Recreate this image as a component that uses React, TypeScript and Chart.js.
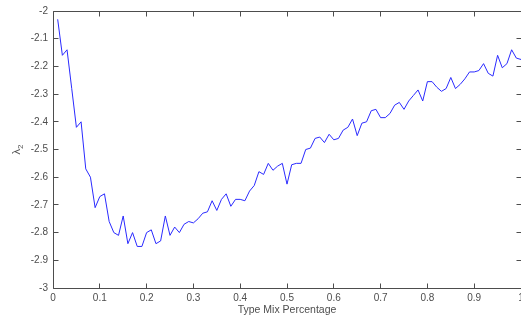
import React, { useEffect, useRef } from 'react';
import { Chart, registerables } from 'chart.js';

Chart.register(...registerables);

const mixPercentage = [
  0.01, 0.02, 0.03, 0.04, 0.05, 0.06, 0.07, 0.08, 0.09, 0.10,
  0.11, 0.12, 0.13, 0.14, 0.15, 0.16, 0.17, 0.18, 0.19, 0.20,
  0.21, 0.22, 0.23, 0.24, 0.25, 0.26, 0.27, 0.28, 0.29, 0.30,
  0.31, 0.32, 0.33, 0.34, 0.35, 0.36, 0.37, 0.38, 0.39, 0.40,
  0.41, 0.42, 0.43, 0.44, 0.45, 0.46, 0.47, 0.48, 0.49, 0.50,
  0.51, 0.52, 0.53, 0.54, 0.55, 0.56, 0.57, 0.58, 0.59, 0.60,
  0.61, 0.62, 0.63, 0.64, 0.65, 0.66, 0.67, 0.68, 0.69, 0.70,
  0.71, 0.72, 0.73, 0.74, 0.75, 0.76, 0.77, 0.78, 0.79, 0.80,
  0.81, 0.82, 0.83, 0.84, 0.85, 0.86, 0.87, 0.88, 0.89, 0.90,
  0.91, 0.92, 0.93, 0.94, 0.95, 0.96, 0.97, 0.98, 0.99, 1.00,
];

const lambda2 = [
  -2.03, -2.16, -2.14, -2.28, -2.42, -2.40, -2.57, -2.60, -2.71, -2.67,
  -2.66, -2.76, -2.80, -2.81, -2.74, -2.84, -2.80, -2.85, -2.85, -2.80,
  -2.79, -2.84, -2.83, -2.74, -2.81, -2.78, -2.80, -2.77, -2.76, -2.765,
  -2.75, -2.73, -2.725, -2.685, -2.72, -2.68, -2.66, -2.705, -2.68, -2.68,
  -2.685, -2.65, -2.63, -2.58, -2.59, -2.55, -2.575, -2.56, -2.55, -2.625,
  -2.555, -2.55, -2.55, -2.50, -2.495, -2.46, -2.455, -2.475, -2.445, -2.465,
  -2.46, -2.43, -2.42, -2.39, -2.45, -2.405, -2.40, -2.36, -2.355, -2.385,
  -2.385, -2.37, -2.34, -2.33, -2.355, -2.325, -2.305, -2.285, -2.325, -2.255,
  -2.255, -2.275, -2.29, -2.28, -2.24, -2.28, -2.265, -2.245, -2.22, -2.22,
  -2.215, -2.19, -2.225, -2.235, -2.16, -2.205, -2.19, -2.14, -2.17, -2.175,
];

const xTicks = [0, 0.1, 0.2, 0.3, 0.4, 0.5, 0.6, 0.7, 0.8, 0.9, 1];
const yTicks = [-3, -2.9, -2.8, -2.7, -2.6, -2.5, -2.4, -2.3, -2.2, -2.1, -2];

const xTitle = 'Type Mix Percentage';
const yTitleMain = 'λ';
const yTitleSub = '2';

const FONT = '"Liberation Sans", Arial, Helvetica, sans-serif';
const AXIS_COLOR = '#4d4d4d';
const TEXT_COLOR = '#4d4d4d';
const LINE_COLOR = '#2a2aff';

const axesPlugin = {
  id: 'matlabAxes',
  afterDraw(chart: any) {
    const { ctx, chartArea } = chart;
    const { left, right, top, bottom } = chartArea;
    const xs = chart.scales.x;
    const ys = chart.scales.y;
    const L = Math.floor(left) + 0.5;
    const R = Math.floor(right) + 0.5;
    const T = Math.floor(top) + 0.5;
    const B = Math.floor(bottom) + 0.5;
    ctx.save();
    ctx.strokeStyle = AXIS_COLOR;
    ctx.lineWidth = 1;
    ctx.beginPath();
    ctx.moveTo(L, T);
    ctx.lineTo(R, T);
    ctx.lineTo(R, B);
    ctx.lineTo(L, B);
    ctx.closePath();
    const tl = 5;
    xTicks.forEach((v) => {
      const px = Math.floor(xs.getPixelForValue(v)) + 0.5;
      ctx.moveTo(px, B);
      ctx.lineTo(px, B - tl);
      ctx.moveTo(px, T);
      ctx.lineTo(px, T + tl);
    });
    yTicks.forEach((v) => {
      const py = Math.floor(ys.getPixelForValue(v)) + 0.5;
      ctx.moveTo(L, py);
      ctx.lineTo(L + tl, py);
      ctx.moveTo(R, py);
      ctx.lineTo(R - tl, py);
    });
    ctx.stroke();

    // x title
    ctx.fillStyle = TEXT_COLOR;
    ctx.font = `10.5px ${FONT}`;
    ctx.textAlign = 'center';
    ctx.textBaseline = 'middle';
    ctx.fillText(xTitle, (left + right) / 2, 310);

    // y title (rotated lambda with subscript 2)
    ctx.translate(17, (top + bottom) / 2);
    ctx.rotate(-Math.PI / 2);
    ctx.textAlign = 'left';
    ctx.textBaseline = 'alphabetic';
    ctx.font = `11px ${FONT}`;
    const w = ctx.measureText(yTitleMain).width;
    ctx.fillText(yTitleMain, -5, 3);
    ctx.font = `8px ${FONT}`;
    ctx.fillText(yTitleSub, -5 + w, 6);
    ctx.restore();
  },
};

export default function App() {
  const canvasRef = useRef<HTMLCanvasElement | null>(null);

  useEffect(() => {
    const canvas = canvasRef.current;
    if (!canvas) return;
    const chart = new Chart(canvas, {
      type: 'line',
      data: {
        datasets: [
          {
            data: mixPercentage.map((x, i) => ({ x, y: lambda2[i] })),
            borderColor: LINE_COLOR,
            borderWidth: 1,
            pointRadius: 0,
            tension: 0,
            fill: false,
          },
        ],
      },
      options: {
        animation: false,
        responsive: false,
        devicePixelRatio: 1,
        layout: { padding: { top: 11, left: 0, right: 0, bottom: 0 } },
        plugins: {
          legend: { display: false },
          tooltip: { enabled: false },
        },
        scales: {
          x: {
            type: 'linear',
            min: 0,
            max: 1,
            grid: { display: false, drawTicks: false },
            border: { display: false },
            afterBuildTicks: (s: any) => {
              s.ticks = xTicks.map((v) => ({ value: v }));
            },
            afterFit: (s: any) => {
              s.height = 32;
              s.paddingRight = 0;
              s.paddingLeft = 0;
            },
            ticks: {
              color: TEXT_COLOR,
              font: { family: FONT, size: 10 },
              padding: 4,
              maxRotation: 0,
              autoSkip: false,
              callback: (v: any) => String(Math.round(Number(v) * 10) / 10),
            },
          },
          y: {
            type: 'linear',
            min: -3,
            max: -2,
            grid: { display: false, drawTicks: false },
            border: { display: false },
            afterBuildTicks: (s: any) => {
              s.ticks = yTicks.map((v) => ({ value: v }));
            },
            afterFit: (s: any) => {
              s.width = 53;
              s.paddingTop = 0;
              s.paddingBottom = 0;
            },
            ticks: {
              color: TEXT_COLOR,
              font: { family: FONT, size: 10 },
              padding: 5,
              autoSkip: false,
              callback: (v: any) => String(Math.round(Number(v) * 10) / 10),
            },
          },
        },
      },
      plugins: [axesPlugin],
    });
    return () => chart.destroy();
  }, []);

  return (
    <canvas
      ref={canvasRef}
      width={521}
      height={320}
      style={{ position: 'fixed', left: 0, top: 0, width: 521, height: 320, background: '#ffffff' }}
    />
  );
}
